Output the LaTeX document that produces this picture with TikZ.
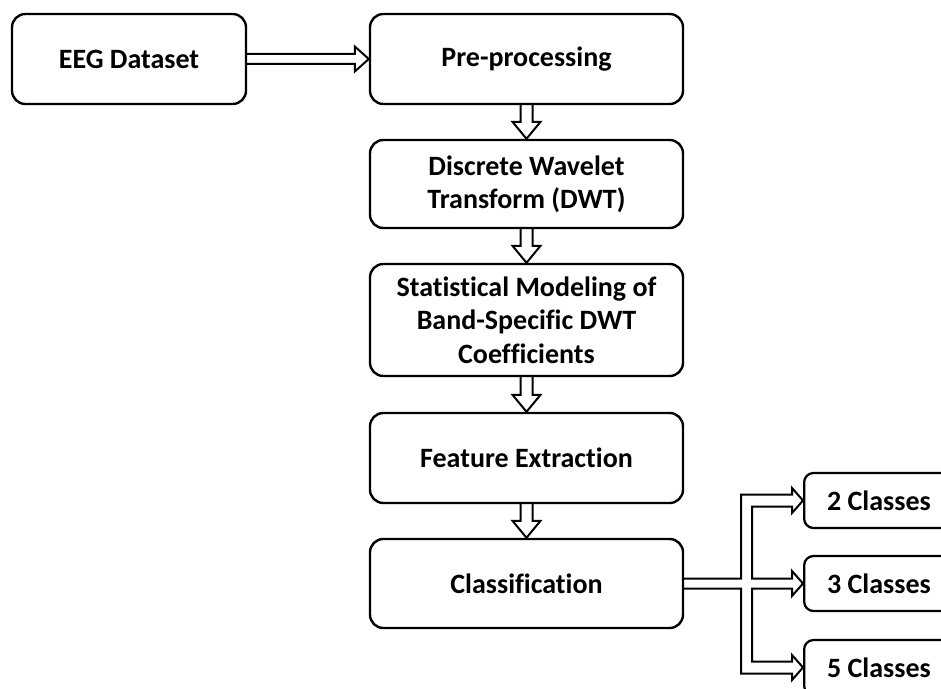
\documentclass[tikz,border=0pt]{standalone}
\usepackage{fontspec}
\setmainfont{Carlito}[Ligatures=NoCommon]
\usetikzlibrary{calc}

\begin{document}
\begin{tikzpicture}[x=0.75pt, y=-0.75pt, font=\fontsize{21}{25}\selectfont\bfseries,
  stepbox/.style={draw, line width=1.8pt, rounded corners=10pt, align=center, inner sep=0pt, minimum width=234.75pt},
  classbox/.style={draw, line width=1.7pt, rounded corners=7pt, anchor=west, align=flush left, text width=112.5pt,
    inner xsep=17.25pt, inner ysep=0pt, minimum height=41.25pt},
  hollow/.style={line width=1.5pt, line join=miter}]
  \useasboundingbox (0,0) rectangle (941,688);
  \clip (0,0) rectangle (941,688);
  \fill[white] (0,0) rectangle (941,688);
  % main chain of steps
  \node[stepbox, minimum width=175.5pt, minimum height=67.5pt] (eeg) at (129,59) {EEG Dataset};
  \node[stepbox, minimum height=67.5pt] (pre) at (526.5,59) {Pre-processing};
  \node[stepbox, minimum height=66pt] (dwt) at (526.5,184) {Discrete Wavelet\\Transform (DWT)};
  \node[stepbox, minimum height=84pt] (stat) at (526.5,320) {Statistical Modeling of\\Band-Specific DWT\\Coefficients};
  \node[stepbox, minimum height=67.5pt] (feat) at (526.5,458) {Feature Extraction};
  \node[stepbox, minimum height=66.75pt] (cls) at (526.5,583.5) {Classification};
  % class outputs
  \node[classbox] (c2) at (803,500.5) {2 Classes};
  \node[classbox] (c3) at (803,583.5) {3 Classes};
  \node[classbox] (c5) at (803,667.5) {5 Classes};
  % hollow arrow into pre-processing
  \draw[hollow] ($(eeg.east)+(0,-5)$) -- ($(pre.west)+(-14,-5)$) -- ($(pre.west)+(-14,-12.5)$)
    -- (pre.west) -- ($(pre.west)+(-14,12.5)$) -- ($(pre.west)+(-14,5)$) -- ($(eeg.east)+(0,5)$);
  % hollow arrows down the chain
  \foreach \a/\b in {pre/dwt, dwt/stat, stat/feat, feat/cls}{
    \draw[hollow] ($(\a.south)+(-6,0)$) -- ($(\b.north)+(-6,-17)$) -- ($(\b.north)+(-14,-17)$)
      -- (\b.north) -- ($(\b.north)+(14,-17)$) -- ($(\b.north)+(6,-17)$) -- ($(\a.south)+(6,0)$);
  }
  % forked hollow arrow to the three outputs
  \draw[hollow] ($(cls.east)+(0,-5)$) -| ($(c2.west)+(-62,-6)$) -- ($(c2.west)+(-11,-6)$)
    -- ($(c2.west)+(-11,-12.5)$) -- (c2.west) -- ($(c2.west)+(-11,12.5)$) -- ($(c2.west)+(-11,6)$)
    -- ($(c2.west)+(-51,6)$) |- ($(c3.west)+(-11,-5)$) -- ($(c3.west)+(-11,-12.5)$) -- (c3.west)
    -- ($(c3.west)+(-11,12.5)$) -- ($(c3.west)+(-11,5)$) -| ($(c5.west)+(-51,-6)$)
    -- ($(c5.west)+(-11,-6)$) -- ($(c5.west)+(-11,-12.5)$) -- (c5.west) -- ($(c5.west)+(-11,12.5)$)
    -- ($(c5.west)+(-11,6)$) -- ($(c5.west)+(-62,6)$) |- ($(cls.east)+(0,5)$);
\end{tikzpicture}
\end{document}
